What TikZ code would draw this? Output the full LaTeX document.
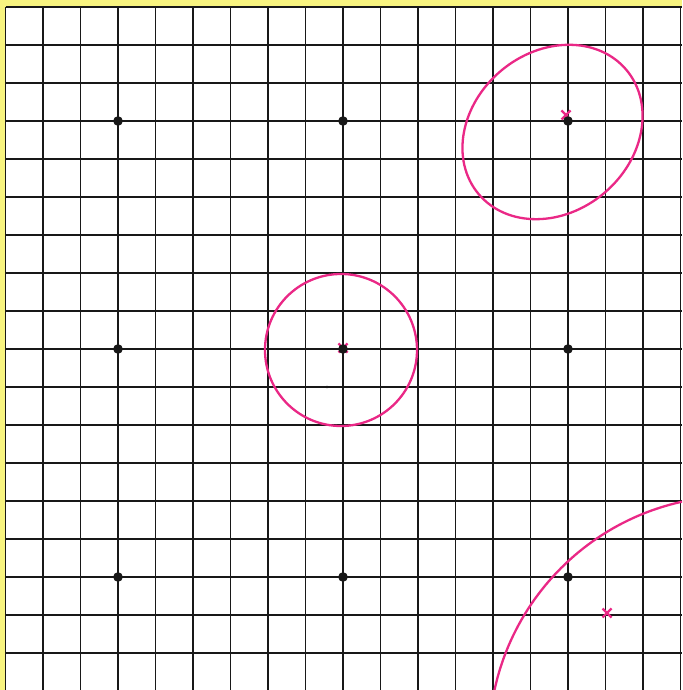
\documentclass[tikz,border=0pt]{standalone}
\definecolor{paper}{RGB}{248,244,128}
\definecolor{pinkline}{RGB}{234,40,134}
\definecolor{ink}{RGB}{24,24,24}
\begin{document}
\begin{tikzpicture}[x=1pt,y=1pt,
  gridline/.style={ink,line width=1.6pt},
  ring/.style={pinkline,line width=2.3pt},
  dotmark/.style={fill=ink},
  xmark/.style={pinkline,line width=2.2pt}]
\useasboundingbox (0,0) rectangle (682,690);
\fill[paper] (0,0) rectangle (682,690);
\fill[white] (5.5,0) rectangle (682,683);
\begin{scope}
\clip (0,0) rectangle (682,690);
\foreach \k in {0,...,18} {
  \draw[gridline] (5.5+37.5*\k,0) -- (5.5+37.5*\k,683);
  \draw[gridline] (5.5,683-38*\k) -- (682,683-38*\k);
}
% crosses
\foreach \cx/\cy in {566/575, 343/342, 607/77} {
  \draw[xmark] (\cx-4.5,\cy-4.5) -- (\cx+4.5,\cy+4.5);
  \draw[xmark] (\cx-4.5,\cy+4.5) -- (\cx+4.5,\cy-4.5);
}
% dots
\foreach \px in {118,343,568} {
  \foreach \py in {569,341,113} {
    \fill[dotmark] (\px,\py) circle (4.8);
  }
}
\fill[ink] (327,303) circle (1.3);
% circles
\draw[ring] (341,340) circle (76);
\draw[ring, shift={(552.5,558)}, rotate=40] (0,0) ellipse [x radius=96.5, y radius=80];
\draw[ring] (735,-52) circle (246);
\end{scope}
\end{tikzpicture}
\end{document}
